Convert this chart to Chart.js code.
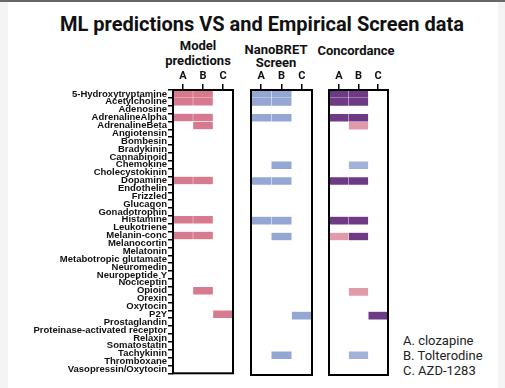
<!DOCTYPE html>
<html>
<head>
<meta charset="utf-8">
<script src="https://cdn.jsdelivr.net/npm/chart.js@4"></script>
<style>
  html, body { margin: 0; padding: 0; background: #fff; }
  body { width: 505px; height: 388px; position: relative; overflow: hidden; font-family: Roboto, "Liberation Sans", sans-serif; }
  .strip { position: absolute; background: #f4f4f4; }
  .topbar { position: absolute; left: 0; top: 0; width: 505px; height: 2px; background: #676767; }
  .txt { position: absolute; color: #111; white-space: nowrap; }
  .title { left: 0; width: 524px; top: 12px; text-align: center; font-weight: bold; font-size: 20px; }
  .sub { font-weight: bold; font-size: 13px; text-align: center; }
  .legend { left: 403px; top: 333px; font-size: 13px; line-height: 15px; color: #222; }
  canvas { position: absolute; }
</style>
</head>
<body>
<div class="strip" style="left:0;top:0;width:8px;height:388px"></div>
<div class="strip" style="left:498px;top:0;width:7px;height:388px"></div>
<div class="topbar"></div>

<div class="txt title">ML predictions VS and Empirical Screen data</div>
<div class="txt sub" style="left:148px;width:100px;top:38px;line-height:15px">Model<br>predictions</div>
<div class="txt sub" style="left:226px;width:100px;top:43px;line-height:13px">NanoBRET<br>Screen</div>
<div class="txt sub" style="left:306px;width:100px;top:43px">Concordance</div>
<div class="txt legend">A. clozapine<br>B. Tolterodine<br>C. AZD-1283</div>

<canvas id="model" width="240" height="312" style="left:0;top:68px"></canvas>
<canvas id="screen" width="75" height="312" style="left:245px;top:68px"></canvas>
<canvas id="concord" width="73" height="312" style="left:323px;top:68px"></canvas>

<script>
// receptor families (rows) and compounds (columns)
const categories = [
  '5-Hydroxytryptamine', 'Acetylcholine', 'Adenosine', 'AdrenalineAlpha', 'AdrenalineBeta',
  'Angiotensin', 'Bombesin', 'Bradykinin', 'Cannabinoid', 'Chemokine', 'Cholecystokinin',
  'Dopamine', 'Endothelin', 'Frizzled', 'Glucagon', 'Gonadotrophin', 'Histamine',
  'Leukotriene', 'Melanin-conc', 'Melanocortin', 'Melatonin', 'Metabotropic glutamate',
  'Neuromedin', 'Neuropeptide Y', 'Nociceptin', 'Opioid', 'Orexin', 'Oxytocin', 'P2Y',
  'Prostaglandin', 'Proteinase-activated receptor', 'Relaxin', 'Somatostatin',
  'Tachykinin', 'Thromboxane', 'Vasopressin/Oxytocin'
];
const columns = ['A', 'B', 'C'];

// ML model predicted hits
const modelHits = {
  A: ['5-Hydroxytryptamine', 'Acetylcholine', 'AdrenalineAlpha', 'Dopamine', 'Histamine', 'Melanin-conc'],
  B: ['5-Hydroxytryptamine', 'Acetylcholine', 'AdrenalineAlpha', 'AdrenalineBeta', 'Dopamine', 'Histamine', 'Melanin-conc', 'Opioid'],
  C: ['P2Y']
};

// NanoBRET screen hits
const screenHits = {
  A: ['5-Hydroxytryptamine', 'Acetylcholine', 'AdrenalineAlpha', 'Dopamine', 'Histamine'],
  B: ['5-Hydroxytryptamine', 'Acetylcholine', 'AdrenalineAlpha', 'Chemokine', 'Dopamine', 'Histamine', 'Melanin-conc', 'Tachykinin'],
  C: ['P2Y']
};

// concordance: both agree / model only / screen only
const concordBoth = {
  A: ['5-Hydroxytryptamine', 'Acetylcholine', 'AdrenalineAlpha', 'Dopamine', 'Histamine'],
  B: ['5-Hydroxytryptamine', 'Acetylcholine', 'AdrenalineAlpha', 'Dopamine', 'Histamine', 'Melanin-conc'],
  C: ['P2Y']
};
const concordModelOnly = {
  A: ['Melanin-conc'],
  B: ['AdrenalineBeta', 'Opioid'],
  C: []
};
const concordScreenOnly = {
  A: [],
  B: ['Chemokine', 'Tachykinin'],
  C: []
};

const RED = '#d77a90';
const BLUE = '#93a6d4';
const PURPLE = '#6e3a86';
const PINK = '#e09bab';
const LIGHTBLUE = '#a3b2da';

function makeDatasets(hits, color) {
  return columns.map((col, c) => ({
    label: col,
    data: categories.map(cat => hits[col].includes(cat) ? [c, c + 1] : null),
    backgroundColor: color,
    borderColor: 'rgba(255,255,255,0.35)',
    borderWidth: 0.5,
    borderSkipped: false,
    grouped: false,
    barPercentage: 1,
    categoryPercentage: 1
  }));
}

const boxPlugin = {
  id: 'box',
  afterDatasetsDraw(chart) {
    const a = chart.chartArea;
    const ctx = chart.ctx;
    ctx.save();
    ctx.strokeStyle = '#000';
    ctx.lineWidth = 2;
    ctx.strokeRect(a.left, a.top, a.right - a.left, a.bottom - a.top);
    ctx.restore();
  }
};

function makeChart(id, datasets, showLabels, pad) {
  const ctx = document.getElementById(id).getContext('2d');
  return new Chart(ctx, {
    type: 'bar',
    data: { labels: categories, datasets: datasets },
    plugins: [boxPlugin],
    options: {
      indexAxis: 'y',
      responsive: false,
      animation: false,
      layout: { padding: pad },
      plugins: { legend: { display: false }, tooltip: { enabled: false } },
      scales: {
        x: {
          type: 'linear',
          position: 'top',
          min: 0,
          max: 3,
          afterBuildTicks: (scale) => { scale.ticks = [0.5, 1.5, 2.5].map(v => ({ value: v })); },
          afterFit: (scale) => { scale.height = 22; },
          ticks: {
            autoSkip: false,
            maxRotation: 0,
            padding: 1,
            color: '#111',
            font: { family: 'Roboto', weight: 'bold', size: 11 },
            callback: (v) => columns[Math.round(v - 0.5)]
          },
          grid: { drawOnChartArea: false, tickLength: 6, color: '#000', lineWidth: 1.5 },
          border: { display: false }
        },
        y: {
          display: showLabels,
          afterFit: (scale) => { if (showLabels) scale.width = 173; },
          ticks: {
            autoSkip: false,
            padding: 1,
            color: '#111',
            font: { family: 'Liberation Sans', weight: 'bold', size: 9.5 }
          },
          grid: { drawOnChartArea: false, tickLength: 5, color: '#000', lineWidth: 1.5 },
          border: { display: false }
        }
      }
    }
  });
}

makeChart('model', makeDatasets(modelHits, RED), true, { top: 0, bottom: 5, left: 0, right: 7 });
makeChart('screen', makeDatasets(screenHits, BLUE), false, { top: 0, bottom: 5, left: 6, right: 8 });
makeChart('concord', [
  ...makeDatasets(concordBoth, PURPLE),
  ...makeDatasets(concordModelOnly, PINK),
  ...makeDatasets(concordScreenOnly, LIGHTBLUE)
], false, { top: 0, bottom: 5, left: 6, right: 8 });
</script>
</body>
</html>
